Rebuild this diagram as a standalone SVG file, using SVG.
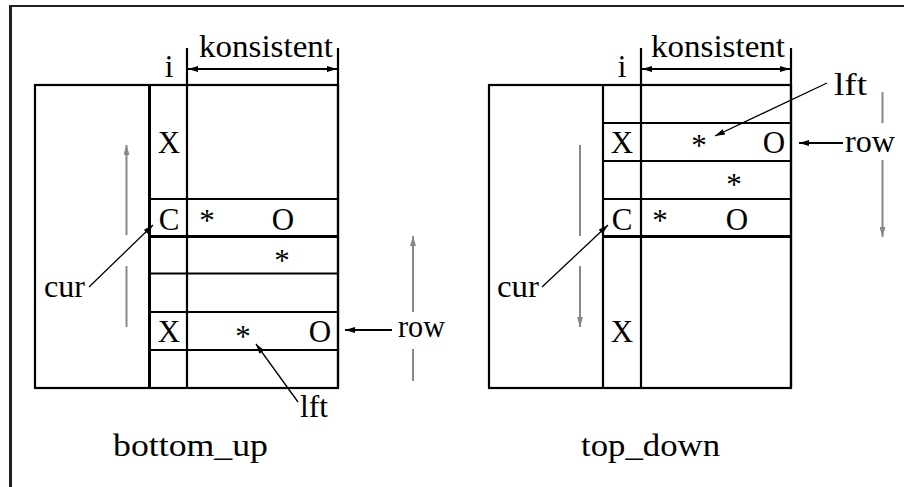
<svg xmlns="http://www.w3.org/2000/svg" width="904" height="487" viewBox="0 0 904 487">
<style>
.bx{fill:none;stroke:#000;stroke-width:2.2}
.th{stroke:#000;stroke-width:3;fill:none}
.ln{stroke:#000;stroke-width:2.2;fill:none}
.ld{stroke:#000;stroke-width:1.3;fill:none}
.gr{stroke:#888;stroke-width:2;fill:none}
text{font-family:"Liberation Serif","Times New Roman",serif;font-size:31px;fill:#000;text-anchor:middle}
</style>
<defs>
<marker id="ah" viewBox="0 0 10 6" refX="10" refY="3" markerWidth="10" markerHeight="6" markerUnits="userSpaceOnUse" orient="auto-start-reverse"><path d="M0,0 L10,3 L0,6 Z" fill="#000"/></marker>
<marker id="ag" viewBox="0 0 10 6" refX="10" refY="3" markerWidth="10" markerHeight="6" markerUnits="userSpaceOnUse" orient="auto"><path d="M0,0 L10,3 L0,6 Z" fill="#888"/></marker>
</defs>
<rect width="904" height="487" fill="#fff"/>
<g id="frame">
<line x1="10.5" y1="487" x2="10.5" y2="5" stroke="#231f20" stroke-width="3"/>
<line x1="9" y1="6" x2="904" y2="6" stroke="#231f20" stroke-width="2"/>
</g>
<g id="bottom_up">
<rect class="bx" x="35" y="85" width="303" height="303"/>
<line class="th" x1="149.5" y1="85" x2="149.5" y2="388"/>
<line class="ln" x1="187" y1="48" x2="187" y2="388"/>
<line class="ln" x1="338" y1="48" x2="338" y2="388"/>
<line class="ln" x1="149" y1="199" x2="338" y2="199"/>
<line class="th" x1="149" y1="236.5" x2="338" y2="236.5"/>
<line class="ln" x1="149" y1="273.5" x2="338" y2="273.5"/>
<line class="ln" x1="149" y1="312" x2="338" y2="312"/>
<line class="ln" x1="149" y1="350" x2="338" y2="350"/>
<text x="169" y="77">i</text>
<text x="266" y="57" textLength="134" lengthAdjust="spacingAndGlyphs">konsistent</text>
<text x="169" y="153">X</text>
<text x="169" y="230">C</text>
<text x="207" y="231">*</text>
<text x="283" y="230">O</text>
<text x="282" y="271">*</text>
<text x="169" y="342">X</text>
<text x="243" y="347">*</text>
<text x="320" y="342">O</text>
<text x="64.5" y="297" textLength="41" lengthAdjust="spacingAndGlyphs">cur</text>
<text x="314" y="417" textLength="28" lengthAdjust="spacingAndGlyphs">lft</text>
<text x="421.5" y="337" textLength="47" lengthAdjust="spacingAndGlyphs">row</text>
<text x="190.5" y="456" textLength="155" lengthAdjust="spacingAndGlyphs">bottom_up</text>
</g>
<g id="top_down">
<rect class="bx" x="489" y="85" width="302" height="303"/>
<line class="ln" x1="603" y1="85" x2="603" y2="388"/>
<line class="ln" x1="641" y1="48" x2="641" y2="388"/>
<line class="ln" x1="791" y1="48" x2="791" y2="388"/>
<line class="ln" x1="603" y1="123" x2="791" y2="123"/>
<line class="ln" x1="603" y1="161" x2="791" y2="161"/>
<line class="ln" x1="603" y1="199" x2="791" y2="199"/>
<line class="th" x1="603" y1="236.5" x2="791" y2="236.5"/>
<text x="622" y="77">i</text>
<text x="718" y="57" textLength="134" lengthAdjust="spacingAndGlyphs">konsistent</text>
<text x="622" y="153">X</text>
<text x="699" y="156">*</text>
<text x="774" y="153">O</text>
<text x="734" y="195">*</text>
<text x="622" y="230">C</text>
<text x="660" y="231">*</text>
<text x="737" y="230">O</text>
<text x="622" y="342">X</text>
<text x="518" y="297" textLength="42" lengthAdjust="spacingAndGlyphs">cur</text>
<text x="850.5" y="95" textLength="33" lengthAdjust="spacingAndGlyphs">lft</text>
<text x="870" y="152" textLength="50" lengthAdjust="spacingAndGlyphs">row</text>
<text x="650.5" y="456" textLength="139" lengthAdjust="spacingAndGlyphs">top_down</text>
</g>
<g id="connectors">
<line class="ln" x1="188" y1="69" x2="337" y2="69" marker-start="url(#ah)" marker-end="url(#ah)"/>
<line class="ld" x1="89" y1="287" x2="153" y2="225" marker-end="url(#ah)"/>
<line class="ld" x1="298" y1="402" x2="256" y2="344" marker-end="url(#ah)"/>
<line class="ln" x1="392" y1="330" x2="345" y2="330" marker-end="url(#ah)"/>
<line class="gr" x1="126.5" y1="235" x2="126.5" y2="145" marker-end="url(#ag)"/>
<line class="gr" x1="126.5" y1="266" x2="126.5" y2="327"/>
<line class="gr" x1="413" y1="312" x2="413" y2="236" marker-end="url(#ag)"/>
<line class="gr" x1="413" y1="349" x2="413" y2="381"/>
<line class="ln" x1="642" y1="69" x2="790" y2="69" marker-start="url(#ah)" marker-end="url(#ah)"/>
<line class="ld" x1="542" y1="287" x2="608" y2="225" marker-end="url(#ah)"/>
<line class="ld" x1="827" y1="83" x2="715" y2="136" marker-end="url(#ah)"/>
<line class="ln" x1="843" y1="143" x2="799" y2="143" marker-end="url(#ah)"/>
<line class="gr" x1="580" y1="145" x2="580" y2="236"/>
<line class="gr" x1="580" y1="266" x2="580" y2="327" marker-end="url(#ag)"/>
<line class="gr" x1="882.5" y1="92" x2="882.5" y2="123"/>
<line class="gr" x1="882.5" y1="160" x2="882.5" y2="237" marker-end="url(#ag)"/>
</g>
</svg>
